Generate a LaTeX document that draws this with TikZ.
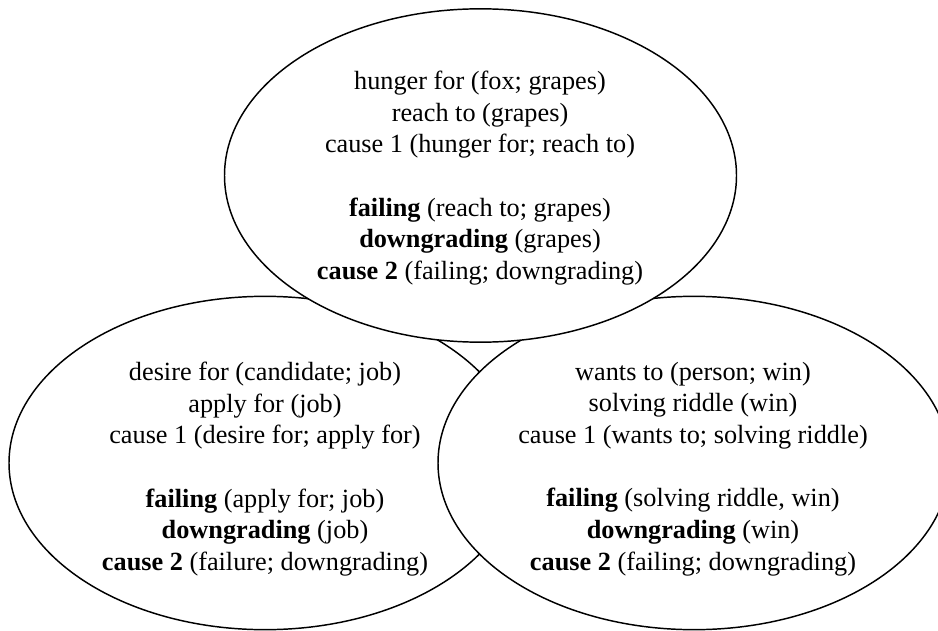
\documentclass[tikz,border=0pt]{standalone}
\usepackage{fontspec}
\setmainfont{Liberation Serif}
\usetikzlibrary{shapes.geometric}
\tikzset{
  bubble/.style={ellipse, draw=black, line width=1.1pt, fill=white, inner sep=0pt,
    minimum width=384pt, minimum height=250pt},
  txt/.style={align=center, inner sep=0pt, font=\fontsize{19.7}{23.75}\selectfont}
}
\begin{document}
\begin{tikzpicture}[x=0.75pt,y=-0.75pt]
\useasboundingbox (0,0) rectangle (938,631);
\node[bubble] (left) at (265,463) {};
\node[bubble] (right) at (694,463) {};
\node[bubble] (top) at (480.5,175.5) {};
\node[txt] (ttop) at (480,178) {hunger for (fox; grapes)\\reach to (grapes)\\cause 1 (hunger for; reach to)\\[23.75pt]\textbf{failing} (reach to; grapes)\\\textbf{downgrading} (grapes)\\\textbf{cause 2} (failing; downgrading)};
\node[txt] (tleft) at (265,469) {desire for (candidate; job)\\apply for (job)\\cause 1 (desire for; apply for)\\[23.75pt]\textbf{failing} (apply for; job)\\\textbf{downgrading} (job)\\\textbf{cause 2} (failure; downgrading)};
\node[txt] (tright) at (693,469) {wants to (person; win)\\solving riddle (win)\\cause 1 (wants to; solving riddle)\\[23.75pt]\textbf{failing} (solving riddle, win)\\\textbf{downgrading} (win)\\\textbf{cause 2} (failing; downgrading)};
\end{tikzpicture}
\end{document}
